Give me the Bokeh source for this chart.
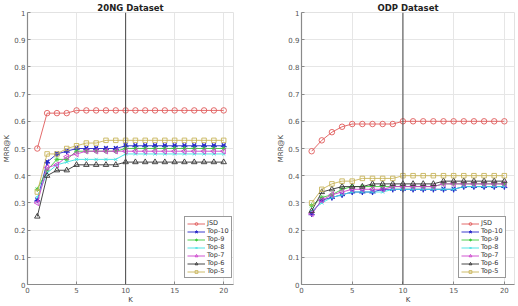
import math
from bokeh.plotting import figure
from bokeh.layouts import row
from bokeh.models import Range1d, FixedTicker, Span, Legend, LegendItem
from bokeh.embed import file_html
from bokeh.resources import INLINE

# ---- data -------------------------------------------------------------
k_values = [1, 2, 3, 4, 5, 6, 7, 8, 9, 10, 11, 12, 13, 14, 15, 16, 17, 18, 19, 20]

series_names = ["JSD", "Top-10", "Top-9", "Top-8", "Top-7", "Top-6", "Top-5"]

# 20NG dataset, MRR@K
ng_jsd   = [0.50, 0.63, 0.63, 0.63, 0.64, 0.64, 0.64, 0.64, 0.64, 0.64, 0.64, 0.64, 0.64, 0.64, 0.64, 0.64, 0.64, 0.64, 0.64, 0.64]
ng_top10 = [0.31, 0.45, 0.48, 0.49, 0.50, 0.50, 0.50, 0.50, 0.50, 0.51, 0.51, 0.51, 0.51, 0.51, 0.51, 0.51, 0.51, 0.51, 0.51, 0.51]
ng_top9  = [0.35, 0.42, 0.46, 0.46, 0.49, 0.49, 0.49, 0.49, 0.49, 0.50, 0.50, 0.50, 0.50, 0.50, 0.50, 0.50, 0.50, 0.50, 0.50, 0.50]
ng_top8  = [0.32, 0.41, 0.44, 0.45, 0.46, 0.46, 0.46, 0.46, 0.46, 0.48, 0.48, 0.48, 0.48, 0.48, 0.48, 0.48, 0.48, 0.48, 0.48, 0.48]
ng_top7  = [0.30, 0.43, 0.44, 0.47, 0.48, 0.49, 0.49, 0.49, 0.49, 0.49, 0.49, 0.49, 0.49, 0.49, 0.49, 0.49, 0.49, 0.49, 0.49, 0.49]
ng_top6  = [0.25, 0.40, 0.42, 0.42, 0.44, 0.44, 0.44, 0.44, 0.44, 0.45, 0.45, 0.45, 0.45, 0.45, 0.45, 0.45, 0.45, 0.45, 0.45, 0.45]
ng_top5  = [0.34, 0.48, 0.48, 0.50, 0.51, 0.52, 0.52, 0.53, 0.53, 0.53, 0.53, 0.53, 0.53, 0.53, 0.53, 0.53, 0.53, 0.53, 0.53, 0.53]

# ODP dataset, MRR@K
odp_jsd   = [0.49, 0.53, 0.56, 0.58, 0.59, 0.59, 0.59, 0.59, 0.59, 0.60, 0.60, 0.60, 0.60, 0.60, 0.60, 0.60, 0.60, 0.60, 0.60, 0.60]
odp_top10 = [0.26, 0.31, 0.32, 0.33, 0.34, 0.34, 0.34, 0.35, 0.35, 0.35, 0.35, 0.35, 0.35, 0.35, 0.35, 0.36, 0.36, 0.36, 0.36, 0.36]
odp_top9  = [0.29, 0.32, 0.33, 0.35, 0.36, 0.36, 0.36, 0.36, 0.36, 0.36, 0.36, 0.36, 0.36, 0.37, 0.37, 0.37, 0.37, 0.37, 0.37, 0.37]
odp_top8  = [0.27, 0.30, 0.32, 0.33, 0.34, 0.34, 0.34, 0.34, 0.35, 0.35, 0.35, 0.35, 0.35, 0.35, 0.35, 0.36, 0.36, 0.36, 0.36, 0.36]
odp_top7  = [0.26, 0.31, 0.33, 0.34, 0.35, 0.35, 0.35, 0.35, 0.36, 0.36, 0.36, 0.36, 0.36, 0.37, 0.37, 0.37, 0.37, 0.37, 0.37, 0.37]
odp_top6  = [0.27, 0.34, 0.35, 0.36, 0.36, 0.36, 0.37, 0.37, 0.37, 0.37, 0.37, 0.37, 0.37, 0.38, 0.38, 0.38, 0.38, 0.38, 0.38, 0.38]
odp_top5  = [0.30, 0.35, 0.37, 0.38, 0.38, 0.39, 0.39, 0.39, 0.39, 0.40, 0.40, 0.40, 0.40, 0.40, 0.40, 0.40, 0.40, 0.40, 0.40, 0.40]

x_ticks = [0, 5, 10, 15, 20]
y_ticks = [0, 0.1, 0.2, 0.3, 0.4, 0.5, 0.6, 0.7, 0.8, 0.9, 1]
y_tick_labels = ["0", "0.1", "0.2", "0.3", "0.4", "0.5", "0.6", "0.7", "0.8", "0.9", "1"]

# ---- styles -----------------------------------------------------------
styles = {
    "JSD":    dict(color="#e05a5a", marker="circle",   fill=False, size=5.5, angle=0.0),
    "Top-10": dict(color="#2626c8", marker="star",     fill=True,  size=6,   angle=math.pi),
    "Top-9":  dict(color="#3cc83c", marker="asterisk", fill=True,  size=5,   angle=0.0),
    "Top-8":  dict(color="#3ee0e0", marker="x",        fill=False, size=4.5, angle=0.0),
    "Top-7":  dict(color="#cc44cc", marker="triangle", fill=False, size=5.5, angle=math.pi / 2),
    "Top-6":  dict(color="#333333", marker="triangle", fill=False, size=5.5, angle=0.0),
    "Top-5":  dict(color="#c8b45a", marker="square",   fill=False, size=4.5, angle=0.0),
}

FONT = "DejaVu Sans"


def make_panel(title, data, border_left, border_right):
    p = figure(width=259, height=306, output_backend="svg", toolbar_location=None,
               x_range=Range1d(0, 21), y_range=Range1d(0, 1),
               min_border_left=border_left, min_border_right=border_right,
               min_border_top=0, min_border_bottom=20)
    p.outline_line_color = "#e2e2e2"
    p.background_fill_color = "white"
    p.border_fill_color = "white"

    p.title.text = title
    p.title.align = "center"
    p.title.text_font = FONT
    p.title.text_font_style = "bold"
    p.title.text_font_size = "8.5px"
    p.title.text_color = "#222222"
    p.title.text_line_height = 0.9
    p.title.standoff = 0
    p.title.offset = 0

    for ax, ticks in ((p.xaxis[0], x_ticks), (p.yaxis[0], y_ticks)):
        ax.ticker = FixedTicker(ticks=ticks)
        ax.axis_line_color = "#8a8a8a"
        ax.axis_line_width = 1.2
        ax.major_tick_line_color = "#8a8a8a"
        ax.major_tick_in = 3
        ax.major_tick_out = 0
        ax.minor_tick_line_color = None
        ax.major_label_text_font = FONT
        ax.major_label_text_font_size = "7px"
        ax.major_label_text_color = "#555555"
        ax.axis_label_text_font = FONT
        ax.axis_label_text_font_size = "7px"
        ax.axis_label_text_font_style = "normal"
        ax.axis_label_text_color = "#444444"
        ax.axis_label_standoff = 0
    p.yaxis[0].major_label_overrides = {t: s for t, s in zip(y_ticks, y_tick_labels)}
    p.xaxis[0].major_label_standoff = 2
    p.yaxis[0].major_label_standoff = 2
    p.xaxis[0].axis_label = "K"
    p.yaxis[0].axis_label = "MRR@K"

    p.grid.grid_line_color = "#e6e6e6"
    p.xgrid.ticker = FixedTicker(ticks=x_ticks)
    p.ygrid.ticker = FixedTicker(ticks=y_ticks)

    # reference line at K = 10
    p.add_layout(Span(location=10, dimension="height", line_color="#555555", line_width=1.1))

    items = []
    for name, vals in zip(series_names, data):
        st = styles[name]
        ln = p.line(k_values, vals, line_color=st["color"], line_width=0.9)
        sc = p.scatter(k_values, vals, marker=st["marker"], size=st["size"], angle=st["angle"],
                       line_color=st["color"], line_width=0.9,
                       fill_color=st["color"] if st["fill"] else "white",
                       fill_alpha=1.0 if st["fill"] else 0.0)
        items.append(LegendItem(label=name, renderers=[ln, sc]))

    legend = Legend(items=items, location=(157, 6))
    legend.label_text_font = FONT
    legend.label_text_font_size = "6.5px"
    legend.label_text_color = "#333333"
    legend.label_height = 7
    legend.glyph_height = 7
    legend.glyph_width = 18
    legend.label_standoff = 2
    legend.spacing = 0
    legend.padding = 2
    legend.margin = 0
    legend.border_line_color = "#333333"
    legend.border_line_width = 0.8
    legend.background_fill_color = "white"
    p.add_layout(legend)
    return p


p1 = make_panel("20NG Dataset",
                [ng_jsd, ng_top10, ng_top9, ng_top8, ng_top7, ng_top6, ng_top5], 20, 26)
p2 = make_panel("ODP Dataset",
                [odp_jsd, odp_top10, odp_top9, odp_top8, odp_top7, odp_top6, odp_top5], 42, 4)

layout = row(p1, p2)
open("out.html", "w").write(file_html(layout, INLINE))
